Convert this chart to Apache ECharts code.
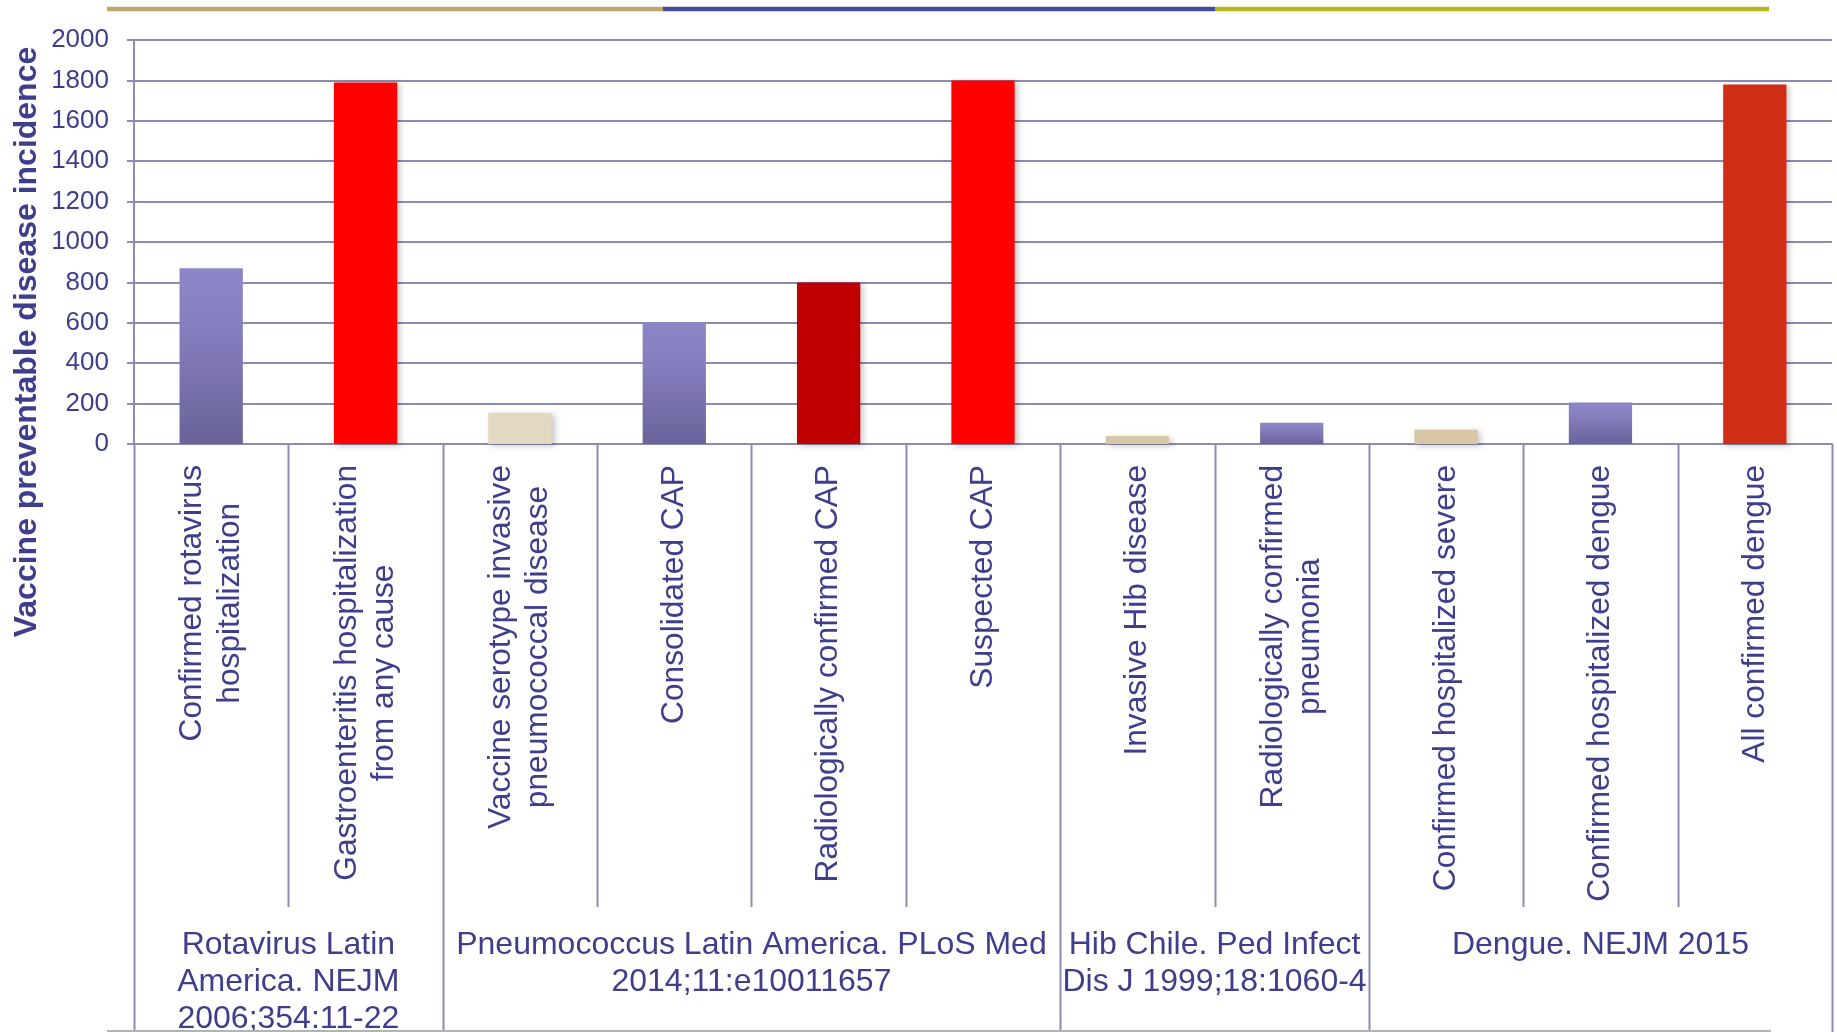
<!DOCTYPE html>
<html>
<head>
<meta charset="utf-8">
<title>Vaccine preventable disease incidence</title>
<script src="https://cdn.jsdelivr.net/npm/echarts@6/dist/echarts.min.js"></script>
<style>
  html, body { margin: 0; padding: 0; background: #ffffff; }
  #chart { width: 1837px; height: 1032px; }
</style>
</head>
<body>
<div id="chart"></div>
<script>
// ---- data ----
const categories = [
  'Confirmed rotavirus\nhospitalization',
  'Gastroenteritis hospitalization\nfrom any cause',
  'Vaccine serotype invasive\npneumococcal disease',
  'Consolidated CAP',
  'Radiologically confirmed CAP',
  'Suspected CAP',
  'Invasive Hib disease',
  'Radiologically confirmed\npneumonia',
  'Confirmed hospitalized severe',
  'Confirmed hospitalized dengue',
  'All confirmed dengue'
];
const incidence = [870, 1790, 155, 600, 800, 1800, 40, 105, 70, 205, 1780];

const studyLabels = [
  'Rotavirus Latin\nAmerica. NEJM\n2006;354:11-22',
  'Pneumococcus Latin America. PLoS Med\n2014;11:e10011657',
  'Hib Chile. Ped Infect\nDis J 1999;18:1060-4',
  'Dengue. NEJM 2015'
];
const studySizes = [2, 4, 2, 3];

const yTicks = { min: 0, max: 2000, step: 200 };

// ---- styling ----
const FONT = '"Liberation Sans", Arial, Helvetica, sans-serif';
const TEXT = '#3e3e8c';
const GRID = '#8d8bb1';
const LABEL_SIZE = 31.7;

const purple = new echarts.graphic.LinearGradient(0, 0, 0, 1, [
  { offset: 0, color: '#8c86c8' },
  { offset: 0.3, color: '#8780bf' },
  { offset: 1, color: '#69639a' }
]);
const palette = {
  purple: purple,
  red: '#ff0000',
  darkRed: '#c00000',
  brickRed: '#d02d15',
  paleTan: '#e3d9c1',
  tan: '#d6c8a6'
};
const barStyleKeys = ['purple', 'red', 'paleTan', 'purple', 'darkRed', 'red',
                      'tan', 'purple', 'tan', 'purple', 'brickRed'];

const chart = echarts.init(document.getElementById('chart'), null, { renderer: 'canvas' });

const option = {
  animation: false,
  backgroundColor: '#ffffff',
  grid: { left: 134, right: 5, top: 40, bottom: 588, containLabel: false },
  xAxis: {
    type: 'category',
    data: categories,
    boundaryGap: true,
    axisLine: { show: true, lineStyle: { color: GRID, width: 2 } },
    axisTick: { show: false },
    axisLabel: {
      interval: 0,
      rotate: 90,
      margin: 21,
      color: TEXT,
      fontFamily: FONT,
      fontSize: LABEL_SIZE,
      lineHeight: 37.5,
      formatter: function (v) {
        return v.split('\n').map(function (s) { return '{c|' + s + '}'; }).join('\n');
      },
      rich: {
        c: { align: 'center', color: TEXT, fontFamily: FONT, fontSize: LABEL_SIZE, lineHeight: 37.5 }
      }
    }
  },
  yAxis: {
    type: 'value',
    min: yTicks.min,
    max: yTicks.max,
    interval: yTicks.step,
    axisLine: { show: true, lineStyle: { color: GRID, width: 2 } },
    axisTick: { show: true, length: 7, lineStyle: { color: GRID, width: 2 } },
    axisLabel: {
      color: TEXT, fontFamily: FONT, fontSize: 26, margin: 25,
      formatter: function (v) { return String(v); }
    },
    splitLine: { show: true, lineStyle: { color: GRID, width: 2 } }
  },
  series: [{
    type: 'bar',
    barWidth: '41%',
    data: incidence.map(function (v, i) {
      return { value: v, itemStyle: { color: palette[barStyleKeys[i]] } };
    }),
    itemStyle: {
      shadowBlur: 6,
      shadowOffsetX: 3,
      shadowOffsetY: 2,
      shadowColor: 'rgba(0,0,0,0.22)'
    }
  }]
};
chart.setOption(option);

// ---- separators, study labels and decorations, placed from the axis scales ----
function buildGraphics() {
  const x0 = chart.convertToPixel({ xAxisIndex: 0 }, 0);
  const x1 = chart.convertToPixel({ xAxisIndex: 0 }, 1);
  const band = x1 - x0;
  const axisY = chart.convertToPixel({ yAxisIndex: 0 }, 0);
  const left = x0 - band / 2;
  const H = chart.getHeight();
  const elements = [];

  // boundaries between categories; study boundaries run to the bottom edge
  const studyEdges = [0];
  studySizes.reduce(function (acc, n) { studyEdges.push(acc + n); return acc + n; }, 0);
  for (let k = 0; k <= categories.length; k++) {
    const x = Math.round(left + k * band) + 0.5;
    const full = studyEdges.indexOf(k) >= 0;
    elements.push({
      type: 'line',
      shape: { x1: x, y1: axisY, x2: x, y2: full ? H : 907 },
      style: { stroke: GRID, lineWidth: 2 },
      silent: true
    });
  }

  // study labels centred under their categories
  for (let g = 0; g < studyLabels.length; g++) {
    const cx = left + (studyEdges[g] + studyEdges[g + 1]) / 2 * band;
    elements.push({
      type: 'text',
      x: cx,
      y: 927,
      style: {
        text: studyLabels[g],
        fill: TEXT,
        font: '32px ' + FONT,
        lineHeight: 37,
        align: 'center',
        verticalAlign: 'top'
      },
      silent: true
    });
  }

  // y axis title
  elements.push({
    type: 'text',
    x: 27,
    y: 342,
    rotation: Math.PI / 2,
    style: {
      text: 'Vaccine preventable disease incidence',
      fill: TEXT,
      font: 'bold 32px ' + FONT,
      align: 'center',
      verticalAlign: 'middle'
    },
    silent: true
  });

  // coloured band across the top and rule along the bottom
  const topBand = [['#bfa66f', 107, 663], ['#474b9b', 663, 1215], ['#b4b81c', 1215, 1769]];
  topBand.forEach(function (s) {
    elements.push({
      type: 'line',
      shape: { x1: s[1], y1: 9, x2: s[2], y2: 9 },
      style: { stroke: s[0], lineWidth: 4.5 },
      silent: true
    });
  });
  elements.push({
    type: 'line',
    shape: { x1: 107, y1: 1031, x2: 1771, y2: 1031 },
    style: { stroke: '#b3b3b3', lineWidth: 2 },
    silent: true
  });

  chart.setOption({ graphic: elements });
}
buildGraphics();
</script>
</body>
</html>
